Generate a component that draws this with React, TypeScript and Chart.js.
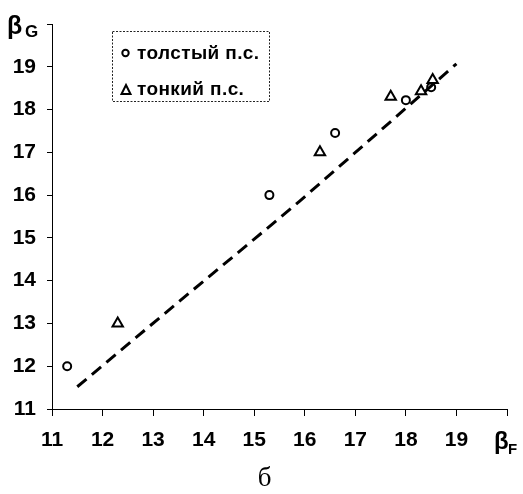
import React, { useEffect, useRef } from 'react';
import { Chart, registerables } from 'chart.js';

Chart.register(...registerables);

const thickX = [11.3, 15.3, 16.6, 18.0, 18.5];
const thickY = [12.0, 16.0, 17.45, 18.22, 18.52];
const thinX = [12.3, 16.3, 17.7, 18.3, 18.53];
const thinY = [13.0, 17.0, 18.3, 18.43, 18.69];
const lineX = [11.5, 13.5, 15.0, 15.9, 17.7, 19.0];
const lineY = [11.52, 13.5, 14.97, 15.86, 17.72, 19.07];
const axisMin = 11;
const axisMax = 20;
const legendLabels = ['толстый п.с.', 'тонкий п.с.'];

const FONT = '"Liberation Sans", Arial, sans-serif';

const overlayPlugin = {
  id: 'overlay',
  afterDraw(chart: any) {
    const ctx = chart.ctx as CanvasRenderingContext2D;
    ctx.save();
    // legend box
    ctx.strokeStyle = '#222';
    ctx.lineWidth = 1;
    ctx.setLineDash([2, 1.5]);
    ctx.strokeRect(112.5, 31.5, 157, 70);
    ctx.setLineDash([]);
    // circle marker
    ctx.lineWidth = 2;
    ctx.strokeStyle = '#000';
    ctx.beginPath();
    ctx.arc(125.5, 53, 3.2, 0, Math.PI * 2);
    ctx.stroke();
    // triangle marker
    ctx.beginPath();
    ctx.moveTo(126, 85);
    ctx.lineTo(130.5, 94);
    ctx.lineTo(121.5, 94);
    ctx.closePath();
    ctx.stroke();
    ctx.fillStyle = '#000';
    ctx.font = `bold 19px ${FONT}`;
    ctx.textBaseline = 'alphabetic';
    ctx.textAlign = 'left';
    (ctx as any).letterSpacing = '0.4px';
    ctx.fillText(legendLabels[0], 137, 59);
    ctx.fillText(legendLabels[1], 137, 95);
    (ctx as any).letterSpacing = '0px';
    // axis titles
    ctx.font = `bold 25px ${FONT}`;
    ctx.fillText('β', 7, 34);
    ctx.font = `bold 17px ${FONT}`;
    ctx.fillText('G', 25, 37);
    ctx.font = `bold 24px ${FONT}`;
    ctx.fillText('β', 494, 449);
    ctx.font = `bold 15px ${FONT}`;
    ctx.fillText('F', 508, 454);
    ctx.restore();
  },
};

export default function App() {
  const ref = useRef<HTMLCanvasElement | null>(null);
  useEffect(() => {
    if (!ref.current) return;
    const tickFont = { family: FONT, size: 21, weight: 'bold' as const };
    const chart = new Chart(ref.current, {
      type: 'scatter',
      data: {
        datasets: [
          {
            label: 'line',
            data: lineX.map((x, i) => ({ x, y: lineY[i] })),
            showLine: true,
            borderColor: '#000',
            borderWidth: 3,
            borderDash: [12, 7],
            pointRadius: 0,
            fill: false,
          },
          {
            label: legendLabels[0],
            data: thickX.map((x, i) => ({ x, y: thickY[i] })),
            pointStyle: 'circle',
            pointRadius: 4,
            borderColor: '#000',
            backgroundColor: 'rgba(255,255,255,0)',
            borderWidth: 2,
          },
          {
            label: legendLabels[1],
            data: thinX.map((x, i) => ({ x, y: thinY[i] })),
            pointStyle: 'triangle',
            pointRadius: 6,
            borderColor: '#000',
            backgroundColor: 'rgba(255,255,255,0)',
            borderWidth: 2,
          },
        ],
      },
      options: {
        animation: false,
        responsive: false,
        layout: { padding: { top: 24, right: 16, left: 0, bottom: 0 } },
        plugins: { legend: { display: false }, tooltip: { enabled: false } },
        scales: {
          x: {
            type: 'linear',
            min: axisMin,
            max: axisMax,
            afterFit: (s: any) => { s.height = 85; },
            ticks: {
              stepSize: 1,
              color: '#000',
              font: tickFont,
              padding: 12,
              maxRotation: 0,
              callback: (v: any) => (v === axisMax ? '' : String(v)),
            },
            grid: { drawOnChartArea: false, color: '#000', tickLength: 7, lineWidth: 1 },
            border: { display: true, color: '#000', width: 1 },
          },
          y: {
            type: 'linear',
            min: axisMin,
            max: axisMax,
            afterFit: (s: any) => { s.width = 52; },
            ticks: {
              stepSize: 1,
              color: '#000',
              font: tickFont,
              padding: 11,
              callback: (v: any) => (v === axisMax ? '' : String(v)),
            },
            grid: { drawOnChartArea: false, color: '#000', tickLength: 5, lineWidth: 1 },
            border: { display: true, color: '#000', width: 1 },
          },
        },
      },
      plugins: [overlayPlugin],
    });
    return () => chart.destroy();
  }, []);
  return (
    <div style={{ position: 'absolute', left: 0, top: 0, width: 523, height: 494, background: '#fff' }}>
      <canvas ref={ref} width={523} height={494} style={{ display: 'block' }} />
      <div
        style={{
          position: 'absolute',
          left: 0,
          width: 523,
          top: 462,
          textAlign: 'center',
          fontFamily: '"Liberation Serif", "Times New Roman", serif',
          fontSize: 27,
          lineHeight: '30px',
          paddingLeft: 6,
          boxSizing: 'border-box',
        }}
      >
        б
      </div>
    </div>
  );
}
